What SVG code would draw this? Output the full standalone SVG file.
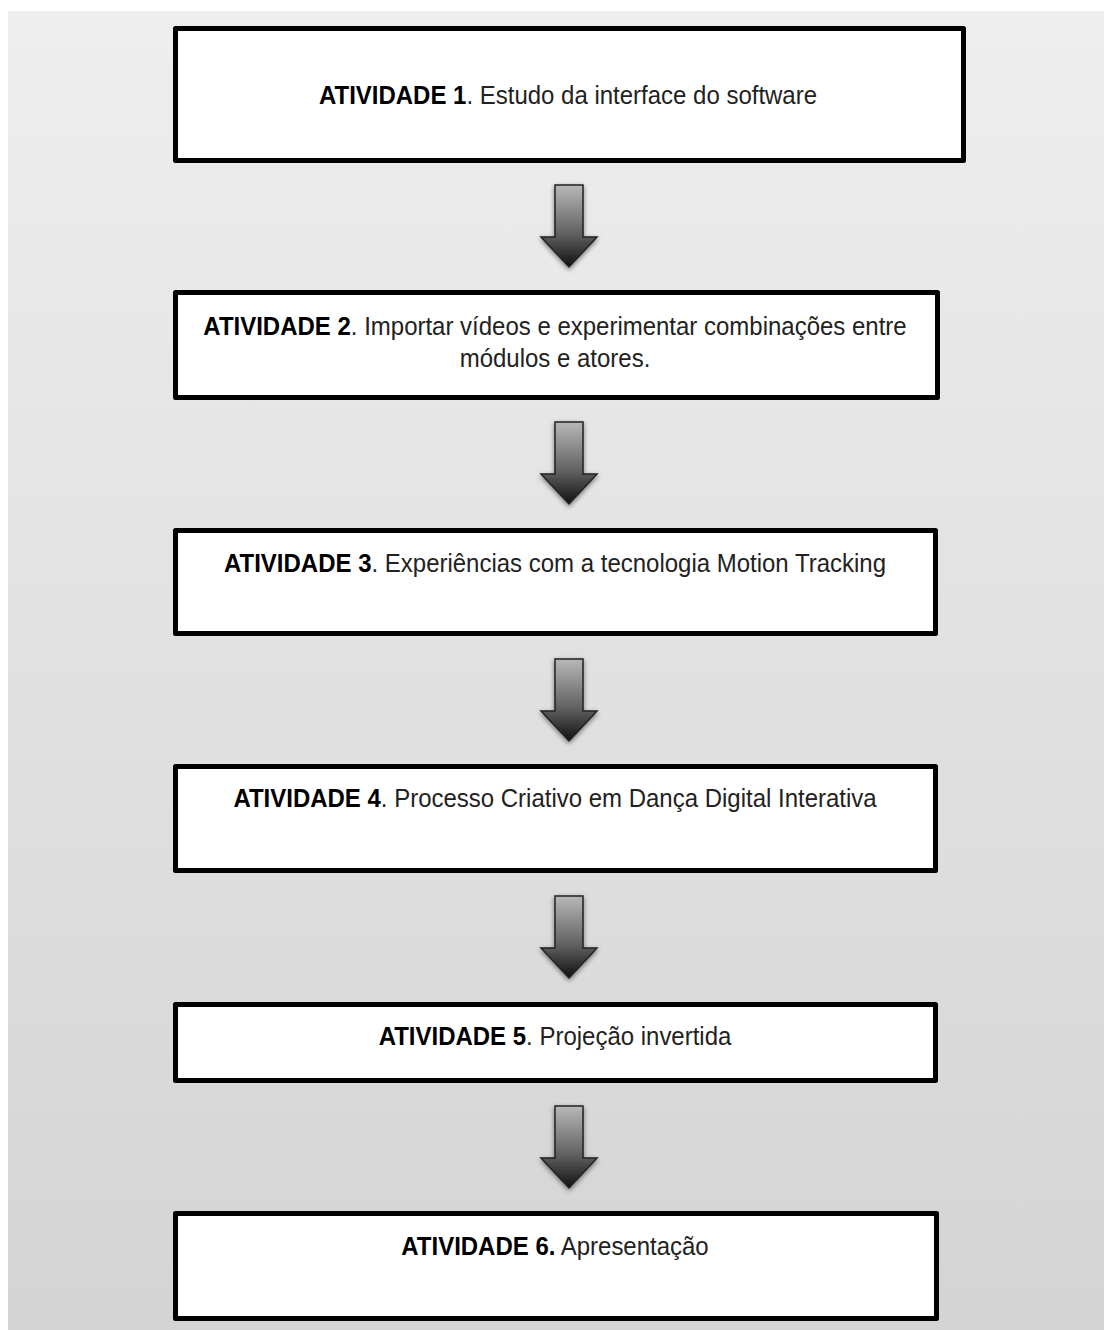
<svg xmlns="http://www.w3.org/2000/svg" width="1104" height="1330" viewBox="0 0 1104 1330">
<defs>
<linearGradient id="bg" x1="0" y1="0" x2="0" y2="1">
<stop offset="0" stop-color="#eeeeee"/>
<stop offset="1" stop-color="#d4d4d4"/>
</linearGradient>
<linearGradient id="ag" x1="0" y1="0" x2="0" y2="1">
<stop offset="0" stop-color="#b8b8b8"/>
<stop offset="0.6" stop-color="#606060"/>
<stop offset="1" stop-color="#111111"/>
</linearGradient>
<filter id="sh" x="-30%" y="-20%" width="160%" height="150%">
<feGaussianBlur in="SourceAlpha" stdDeviation="2.5"/>
<feOffset dx="0" dy="2" result="b"/>
<feComponentTransfer><feFuncA type="linear" slope="0.5"/></feComponentTransfer>
<feMerge><feMergeNode/><feMergeNode in="SourceGraphic"/></feMerge>
</filter>
<path id="arrow" d="M-14,0 H14 V52 H28 L0,82 L-28,52 H-14 Z"/>
</defs>
<style>
.box{fill:#ffffff;stroke:#000000;stroke-width:5;stroke-linejoin:round}
.t{font-family:"Liberation Sans",Arial,sans-serif;font-size:26px;fill:#222222;text-anchor:middle}
.b{font-weight:bold;fill:#000000}
.arr{fill:url(#ag);stroke:#222222;stroke-width:1.5;filter:url(#sh)}
</style>
<rect x="8" y="11" width="1096" height="1319" fill="url(#bg)"/>
<g id="connectors">
<use href="#arrow" class="arr" x="569" y="185"/>
<use href="#arrow" class="arr" x="569" y="422"/>
<use href="#arrow" class="arr" x="569" y="659"/>
<use href="#arrow" class="arr" x="569" y="896"/>
<use href="#arrow" class="arr" x="569" y="1106"/>
</g>
<g id="node1">
<rect class="box" x="175.5" y="28.5" width="788" height="132"/>
<text class="t" transform="translate(568,104) scale(0.923,1)"><tspan class="b">ATIVIDADE 1</tspan>. Estudo da interface do software</text>
</g>
<g id="node2">
<rect class="box" x="175.5" y="292.5" width="762" height="105"/>
<text class="t" transform="translate(555,335) scale(0.923,1)"><tspan class="b">ATIVIDADE 2</tspan>. Importar vídeos e experimentar combinações entre</text>
<text class="t" transform="translate(555,367) scale(0.923,1)">módulos e atores.</text>
</g>
<g id="node3">
<rect class="box" x="175.5" y="530.5" width="760" height="103"/>
<text class="t" transform="translate(555,572) scale(0.923,1)"><tspan class="b">ATIVIDADE 3</tspan>. Experiências com a tecnologia Motion Tracking</text>
</g>
<g id="node4">
<rect class="box" x="175.5" y="766.5" width="760" height="104"/>
<text class="t" transform="translate(555,807) scale(0.923,1)"><tspan class="b">ATIVIDADE 4</tspan>. Processo Criativo em Dança Digital Interativa</text>
</g>
<g id="node5">
<rect class="box" x="175.5" y="1004.5" width="760" height="76"/>
<text class="t" transform="translate(555,1045) scale(0.923,1)"><tspan class="b">ATIVIDADE 5</tspan>. Projeção invertida</text>
</g>
<g id="node6">
<rect class="box" x="175.5" y="1213.5" width="761" height="105"/>
<text class="t" transform="translate(555,1255) scale(0.923,1)"><tspan class="b">ATIVIDADE 6.</tspan> Apresentação</text>
</g>
</svg>
